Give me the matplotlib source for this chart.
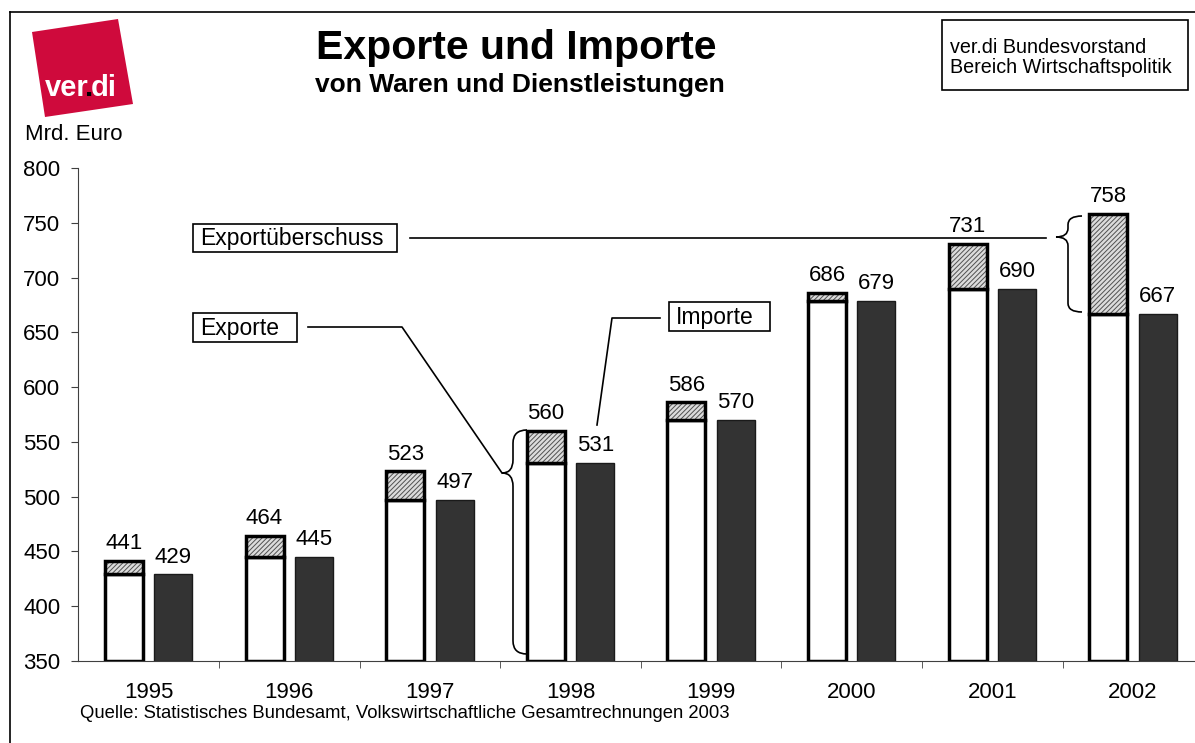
import matplotlib
matplotlib.use('Agg')
import matplotlib.pyplot as plt
from matplotlib.patches import Polygon, Rectangle, PathPatch
from matplotlib.path import Path
from matplotlib.text import Annotation
import numpy as np

plt.rcParams['font.family'] = ['Liberation Sans', 'DejaVu Sans']
plt.rcParams['hatch.linewidth'] = 0.7

years = ['1995', '1996', '1997', '1998', '1999', '2000', '2001', '2002']
exporte = [441, 464, 523, 560, 586, 686, 731, 758]
importe = [429, 445, 497, 531, 570, 679, 690, 667]
y_ticks = [350, 400, 450, 500, 550, 600, 650, 700, 750, 800]

W, H = 1195, 743
# Achsenlage in Pixeln (links, rechts, oben, unten)
AX_L, AX_R, AX_T, AX_B = 78.4, 1203.2, 168, 661


def fx(x):
    return x / W


def fy(y):
    return 1 - y / H


def dx(px):
    return (px - AX_L) / (AX_R - AX_L) * 8 - 0.5


def dy(py):
    return 800 - (py - AX_T) / (AX_B - AX_T) * 450


def brace(ax, x_end, x_spine, x_tip, y_top, y_bot, y_tip, r):
    verts = [(x_end, y_top), (x_spine, y_top), (x_spine, y_top - r),
             (x_spine, y_tip + r), (x_spine, y_tip), (x_tip, y_tip),
             (x_spine, y_tip), (x_spine, y_tip - r),
             (x_spine, y_bot + r), (x_spine, y_bot), (x_end, y_bot)]
    codes = [Path.MOVETO, Path.CURVE3, Path.CURVE3,
             Path.LINETO, Path.CURVE3, Path.CURVE3,
             Path.CURVE3, Path.CURVE3,
             Path.LINETO, Path.CURVE3, Path.CURVE3]
    ax.add_patch(PathPatch(Path(verts, codes), fill=False, lw=1.2, color='black'))


def label_box(ax, text, left, right, top, bottom):
    ax.add_patch(Rectangle((dx(left), dy(bottom)), dx(right) - dx(left), dy(top) - dy(bottom),
                           fc='white', ec='black', lw=1.2, zorder=4))
    ax.text(dx(left + 7), dy((top + bottom) / 2 + 1), text, ha='left', va='center',
            fontsize=16.5, zorder=5)


fig = plt.figure(figsize=(W / 100, H / 100), dpi=100)
ax = fig.add_axes([fx(AX_L), fy(AX_B), (AX_R - AX_L) / W, (AX_B - AX_T) / H])

x = np.arange(len(years))
bw = 0.27
off = 0.176
base = 350

# Exporte: weisser Teil bis Importwert, schraffierter Teil = Exportueberschuss
ex_x = x - off
diff = np.array(exporte) - np.array(importe)
ax.bar(ex_x, np.array(importe) - base, bw, bottom=base, color='white',
       edgecolor='black', lw=2.5, zorder=2)
ax.bar(ex_x, diff, bw, bottom=importe, color='#dcdcdc', edgecolor='#505050',
       hatch='///////', lw=0, zorder=2)
ax.bar(ex_x, diff, bw, bottom=importe, fill=False, edgecolor='black', lw=2.5, zorder=3)
ax.bar(x + off, np.array(importe) - base, bw, bottom=base, color='#333333',
       edgecolor='#1a1a1a', lw=1, zorder=2)

for i in range(len(years)):
    ax.annotate(str(exporte[i]), (ex_x[i], exporte[i]), xytext=(0, 5),
                textcoords='offset points', ha='center', va='bottom', fontsize=16)
    ax.annotate(str(importe[i]), (x[i] + off, importe[i]), xytext=(0, 5),
                textcoords='offset points', ha='center', va='bottom', fontsize=16)

ax.set_xlim(-0.5, 7.5)
ax.set_ylim(350, 800)
ax.set_yticks(y_ticks)
ax.set_yticklabels([str(t) for t in y_ticks], fontsize=16)
ax.set_xticks(x)
ax.set_xticklabels(years, fontsize=16)
ax.set_xticks(np.arange(0.5, 7.5, 1), minor=True)
ax.tick_params(axis='x', which='major', length=0, pad=15)
ax.tick_params(axis='x', which='minor', length=5, direction='out', color='#404040')
ax.tick_params(axis='y', length=5, direction='out', color='#404040', pad=8)
for s in ['top', 'right']:
    ax.spines[s].set_visible(False)
for s in ['left', 'bottom']:
    ax.spines[s].set_color('#404040')
ax.patch.set_alpha(0)

# Exportueberschuss
label_box(ax, 'Exportüberschuss', 193, 397, 224, 252)
ax.plot([dx(410), dx(1046)], [dy(238), dy(238)], color='black', lw=1.2)
brace(ax, dx(1082), dx(1068), dx(1056), dy(216), dy(312), dy(237), 8)

# Exporte
label_box(ax, 'Exporte', 193, 297, 313, 342)
ax.plot([dx(308), dx(402), dx(502)], [dy(327), dy(327), dy(473)], color='black', lw=1.2)
brace(ax, dx(527), dx(513), dx(502), dy(430), dy(654), dy(473), 12)

# Importe
label_box(ax, 'Importe', 669, 770, 302, 331)
ax.plot([dx(660), dx(612), dx(597)], [dy(318), dy(318), dy(425)], color='black', lw=1.2)

# Rahmen
fig.add_artist(plt.Line2D([fx(10), fx(10)], [fy(12), 0], color='black', lw=1.2))
fig.add_artist(plt.Line2D([fx(10), 1], [fy(12), fy(12)], color='black', lw=1.2))

# Logo
logo = [(32, 32), (118, 19), (133, 104), (45, 117)]
fig.add_artist(Polygon([(fx(a), fy(b)) for a, b in logo], closed=True,
                       transform=fig.transFigure, fc='#cf0a3c', ec='none', zorder=1))
logo_font = dict(fontsize=21, fontweight='bold', zorder=5)
t_ver = fig.text(fx(45), fy(96), 'ver', color='white', ha='left', va='baseline', **logo_font)
t_dot = fig.add_artist(Annotation('.', xy=(1, 0), xycoords=t_ver, xytext=(-2.5, 0),
                                  textcoords='offset points', color='black',
                                  ha='left', va='bottom', **logo_font))
fig.add_artist(Annotation('di', xy=(1, 0), xycoords=t_dot, xytext=(-2, 0),
                          textcoords='offset points', color='white',
                          ha='left', va='bottom', **logo_font))

# Titel
fig.text(fx(516), fy(59), 'Exporte und Importe', fontsize=29.5, fontweight='bold',
         ha='center', va='baseline')
fig.text(fx(520), fy(92), 'von Waren und Dienstleistungen', fontsize=19,
         fontweight='bold', ha='center', va='baseline')

# Infokasten
fig.add_artist(Rectangle((fx(942), fy(90)), (1188 - 942) / W, 70 / H,
                         transform=fig.transFigure, fc='white', ec='black', lw=1.2))
fig.text(fx(950), fy(53), 'ver.di Bundesvorstand', fontsize=14.2, ha='left', va='baseline')
fig.text(fx(950), fy(73), 'Bereich Wirtschaftspolitik', fontsize=14.2, ha='left', va='baseline')

fig.text(fx(25), fy(140), 'Mrd. Euro', fontsize=16, ha='left', va='baseline')
fig.text(fx(80), fy(718), 'Quelle: Statistisches Bundesamt, Volkswirtschaftliche Gesamtrechnungen 2003',
         fontsize=13.3, ha='left', va='baseline')

fig.savefig('out.png', dpi=100)
